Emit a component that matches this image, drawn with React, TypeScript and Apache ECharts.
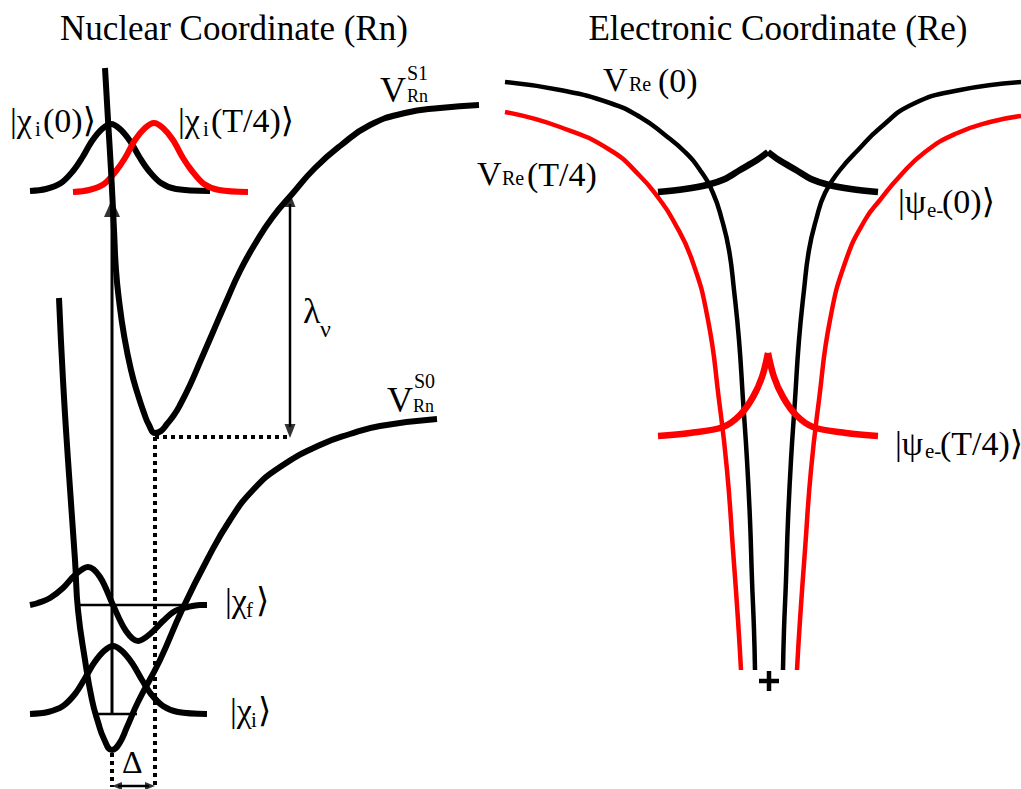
import { useEffect, useRef } from "react";
import * as echarts from "echarts";

const W = 1021;
const H = 789;

// ---- Nuclear coordinate panel (x, y in the panel's drawing units) ----
const s1Curve = [
  [105, 68], [108, 120], [111, 170], [114, 230], [116, 270], [119, 300], [124, 335],
  [131, 370], [138, 395], [144, 413], [149, 425], [155, 433], [161, 431], [167, 424],
  [174, 415], [180, 405], [190, 385], [200, 362], [213, 332], [226, 302], [240, 271],
  [255, 244], [272, 218], [293, 193], [315, 168], [340, 146], [370, 125], [405, 113],
  [440, 108], [479, 105],
];
const s0Curve = [
  [59, 298], [63, 380], [68, 460], [75, 560], [78, 610], [85, 660], [92, 700],
  [98, 722], [104, 739], [112, 750], [119, 744], [127, 727], [138, 702], [160, 660],
  [182, 610], [207, 560], [230, 520], [253, 490], [280, 467], [320, 445], [350, 434],
  [380, 426], [437, 419],
];
const chiI0Top = [
  [30, 191], [46, 189], [61, 183], [73, 171], [82, 158], [92, 141], [102, 129], [111, 124],
  [120, 129], [130, 141], [140, 158], [149, 171], [161, 183], [176, 189], [210, 191],
];
const chiIT4Top = [
  [73, 192], [89, 190], [104, 184], [116, 171], [125, 158], [135, 140], [145, 128], [154, 123],
  [163, 128], [173, 140], [183, 158], [192, 171], [204, 184], [219, 190], [248, 192],
];
const chiFLower = [
  [30, 605], [38, 603], [50, 598], [63, 588], [75, 575], [88, 567], [100, 577], [113, 605],
  [126, 631], [138, 641], [150, 634], [163, 621], [175, 611], [188, 607], [200, 605], [207, 605],
];
const chiILower = [
  [30, 714], [48, 712], [63, 706], [75, 694], [84, 680], [94, 663], [104, 651], [113, 646],
  [122, 651], [132, 663], [142, 680], [151, 694], [163, 706], [178, 712], [207, 714],
];
const levelF = [[80, 605], [183, 605]];
const levelI = [[97, 714], [137, 714]];
const dottedMin = [[155, 437], [290, 437]];
const dottedShiftRight = [[155, 437], [155, 787]];
const dottedShiftLeft = [[112, 753], [112, 787]];

const excitationShaft = [[112, 714], [112, 214]];
const lambdaShaft = [[290, 204], [290, 427]];
const deltaShaft = [[118, 786], [149, 786]];
// arrow heads: [x, y, rotation in degrees]
const bigHeads = [[112, 208, 0]];
const lambdaHeads = [[290, 200, 0], [290, 431, 180]];
const deltaHeads = [[117, 786, 90], [150, 786, -90]];

// ---- Electronic coordinate panel ----
const vRe0Left = [
  [505, 82], [560, 90], [610, 103], [640, 117], [665, 135], [685, 152], [700, 170],
  [713, 193], [722, 220], [729, 250], [734, 290], [739, 340], [743, 400], [747, 460],
  [750, 520], [752, 580], [754, 630], [755, 670],
];
const vRe0Right = [
  [783, 670], [784, 630], [786, 580], [788, 520], [791, 460], [795, 400], [799, 340],
  [804, 290], [809, 250], [816, 220], [825, 193], [840, 170], [858, 150], [880, 128],
  [913, 104], [960, 90], [1021, 82],
];
const vReT4Left = [
  [505, 112], [560, 127], [610, 150], [640, 176], [660, 200], [673, 220], [692, 260],
  [708, 320], [719, 400], [727, 470], [733, 550], [738, 620], [741, 670],
];
const vReT4Right = [
  [797, 670], [800, 620], [805, 550], [811, 470], [819, 400], [830, 320], [846, 260],
  [865, 220], [880, 200], [900, 176], [925, 152], [955, 134], [990, 122], [1021, 116],
];
const psi0Left = [[658, 192], [685, 189], [707, 185], [725, 179], [740, 170], [757, 160], [768, 152]];
const psi0Right = [[768, 152], [779, 160], [796, 170], [811, 179], [829, 185], [851, 189], [878, 192]];
const psiT4Left = [[658, 436], [690, 433], [723, 427], [740, 415], [753, 397], [762, 377], [768, 353]];
const psiT4Right = [[768, 353], [774, 377], [783, 397], [796, 415], [813, 427], [846, 433], [878, 436]];
const nucleusH = [[759, 681], [779, 681]];
const nucleusV = [[769, 671], [769, 691]];

// ---- Text pieces: text, x, baseline, font size, anchor ----
const textPieces: [string, number, number, number, string?][] = [
  ["Nuclear Coordinate (Rn)", 234, 40, 35, "center"],
  ["Electronic Coordinate (Re)", 778, 40, 35, "center"],
  ["|χ", 10, 132, 34], ["i", 35, 136, 21], ["(0)⟩", 43, 132, 34],
  ["|χ", 178, 132, 34], ["i", 203, 136, 21], ["(T/4)⟩", 211, 132, 34],
  ["V", 380, 102, 36], ["S1", 407, 80, 20], ["Rn", 407, 102, 18],
  ["V", 387, 412, 36], ["S0", 414, 388, 20], ["Rn", 413, 412, 18],
  ["λ", 303, 323, 36], ["ν", 320, 337, 24],
  ["|χ", 225, 612, 34], ["f", 246, 617, 21], ["⟩", 256, 612, 34],
  ["|χ", 230, 722, 34], ["i", 251, 727, 21], ["⟩", 258, 722, 34],
  ["Δ", 122, 773, 32],
  ["V", 603, 91, 34], ["Re", 629, 91, 20], ["(0)", 658, 92, 34],
  ["V", 477, 185, 34], ["Re", 502, 185, 20], ["(T/4)", 527, 186, 34],
  ["|ψ", 898, 213, 34], ["e-", 927, 217, 21], ["(0)⟩", 942, 213, 34],
  ["|ψ", 895, 455, 34], ["e-", 925, 458, 21], ["(T/4)⟩", 940, 455, 34],
];

const BLACK = "#000000";
const RED = "#ff0000";
const SERIF = "'Liberation Serif', 'Times New Roman', 'DejaVu Serif', serif";

function curve(data: number[][], color: string, width: number, smooth: number | boolean = 0.5, extra: any = {}) {
  return {
    type: "line",
    data,
    smooth,
    symbol: "none",
    silent: true,
    lineStyle: { color, width, cap: "butt", join: "round", ...extra },
    z: 2,
  };
}

function heads(data: number[][], size: number[]) {
  return {
    type: "scatter",
    silent: true,
    symbol: "triangle",
    symbolSize: size,
    data: data.map((d) => ({ value: [d[0], d[1]], symbolRotate: d[2] })),
    itemStyle: { color: BLACK },
    z: 3,
  };
}

export default function App() {
  const ref = useRef<HTMLDivElement>(null);

  useEffect(() => {
    document.body.style.margin = "0";
    if (!ref.current) return;
    const chart = echarts.init(ref.current, null, { renderer: "svg", width: W, height: H });
    const dotted = { type: [4, 4] };
    const option: any = {
      animation: false,
      backgroundColor: "#ffffff",
      grid: { left: 0, right: 0, top: 0, bottom: 0 },
      xAxis: { type: "value", min: 0, max: W, show: false },
      yAxis: { type: "value", min: 0, max: H, inverse: true, show: false },
      series: [
        curve(levelF, BLACK, 2.5, false),
        curve(levelI, BLACK, 2.5, false),
        curve(dottedMin, BLACK, 4, false, dotted),
        curve(dottedShiftRight, BLACK, 4, false, dotted),
        curve(dottedShiftLeft, BLACK, 4, false, dotted),
        curve(excitationShaft, BLACK, 3, false),
        curve(lambdaShaft, BLACK, 2.5, false),
        curve(deltaShaft, BLACK, 2.5, false),
        heads(bigHeads, [16, 18]),
        heads(lambdaHeads, [11, 14]),
        heads(deltaHeads, [8, 10]),
        curve(chiI0Top, BLACK, 6, 0.35),
        curve(chiIT4Top, RED, 6, 0.35),
        curve(chiFLower, BLACK, 6, 0.35),
        curve(chiILower, BLACK, 6, 0.35),
        curve(s1Curve, BLACK, 6),
        curve(s0Curve, BLACK, 6),
        curve(vRe0Left, BLACK, 4.5),
        curve(vRe0Right, BLACK, 4.5),
        curve(vReT4Left, RED, 4.5),
        curve(vReT4Right, RED, 4.5),
        curve(psi0Left, BLACK, 6.5, 0.35),
        curve(psi0Right, BLACK, 6.5, 0.35),
        curve(psiT4Left, RED, 6.5, 0.35),
        curve(psiT4Right, RED, 6.5, 0.35),
        curve(nucleusH, BLACK, 4.5, false),
        curve(nucleusV, BLACK, 4.5, false),
      ],
      graphic: textPieces.map(([t, x, b, s, anchor]) => ({
        type: "text",
        x,
        y: b - 0.34 * s,
        silent: true,
        z: 10,
        style: {
          text: t,
          fontSize: s,
          fontFamily: SERIF,
          fill: BLACK,
          align: anchor || "left",
          verticalAlign: "middle",
          textAlign: anchor || "left",
          textVerticalAlign: "middle",
        },
      })),
    };
    chart.setOption(option);
    return () => chart.dispose();
  }, []);

  return <div ref={ref} style={{ width: W, height: H }} />;
}
